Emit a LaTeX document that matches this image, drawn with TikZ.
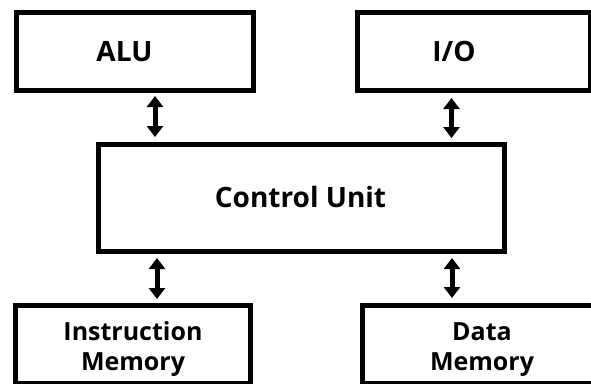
\documentclass[tikz,border=0pt]{standalone}
\usepackage{fontspec}
\setmainfont{Open Sans}
\usetikzlibrary{arrows.meta}
\begin{document}
\begin{tikzpicture}[x=1pt,y=-1pt,
  block/.style={draw=black, line width=5pt, fill=none, inner sep=0pt, outer sep=2.5pt},
  label text/.style={anchor=base, inner sep=0pt, font=\fontsize{25pt}{30pt}\selectfont\bfseries},
  big text/.style={label text, font=\fontsize{28pt}{33pt}\selectfont\bfseries},
  biarrow/.style={line width=5pt, {Triangle[width=16pt,length=11pt]}-{Triangle[width=16pt,length=11pt]}}]
  \useasboundingbox (0,0) rectangle (591,383);
  \clip (0,0) rectangle (591,383);

  % blocks
  \node[block, minimum width=237pt, minimum height=78pt] (alu) at (135,51.5) {};
  \node[block, minimum width=233pt, minimum height=78pt] (io) at (474,51.5) {};
  \node[block, minimum width=406pt, minimum height=107pt] (cu) at (301.5,198) {};
  \node[block, minimum width=235pt, minimum height=78pt] (imem) at (133,344.5) {};
  \node[block, minimum width=239pt, minimum height=78pt] (dmem) at (482,344.5) {};

  % texts
  \node[big text] (alut) at (124.5,61.5) {ALU};
  \node[big text] (iot) at (454,61.5) {I/O};
  \node[big text] (cut) at (300.5,207.5) {Control Unit};
  \node[label text] (imemt1) at (133,340) {Instruction};
  \node[label text] (imemt2) at (133,370) {Memory};
  \node[label text] (dmemt1) at (482,340) {Data};
  \node[label text] (dmemt2) at (482,370) {Memory};

  % bidirectional links
  \draw[biarrow, shorten <=3pt, shorten >=5pt] ([xshift=20pt]alu.south) -- ([xshift=20pt]alu.south |- cu.north);
  \draw[biarrow, shorten <=5pt, shorten >=4pt] ([xshift=-22.5pt]io.south) -- ([xshift=-22.5pt]io.south |- cu.north);
  \draw[biarrow, shorten <=4pt, shorten >=4pt] ([xshift=24pt]imem.north |- cu.south) -- ([xshift=24pt]imem.north);
  \draw[biarrow, shorten <=4pt, shorten >=5pt] ([xshift=-30pt]dmem.north |- cu.south) -- ([xshift=-30pt]dmem.north);
\end{tikzpicture}
\end{document}
